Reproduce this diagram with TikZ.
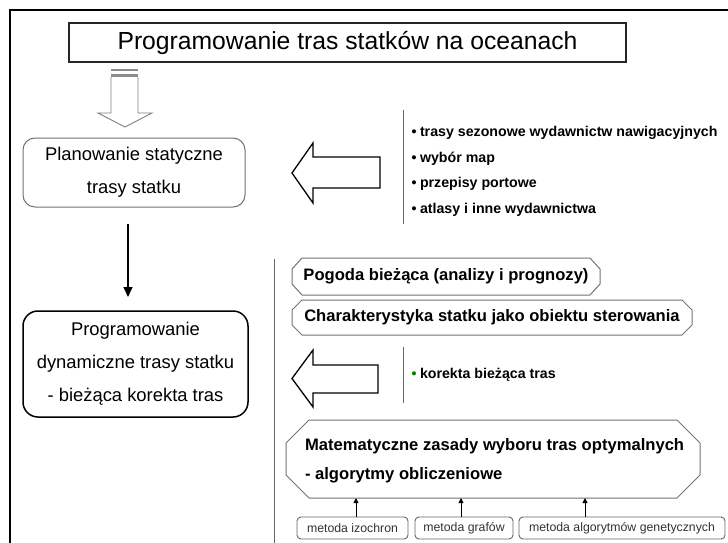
\documentclass[tikz,border=0pt]{standalone}
\usepackage{fontspec}
\setmainfont{Liberation Sans}
\usetikzlibrary{arrows.meta}
\newcommand\fsz[2]{\fontsize{#1}{#2}\selectfont}
\newcommand\chamf[3]{%
  \draw[octo] ([xshift=#2]#1.north west) -- ([xshift=-#2]#1.north east)
    -- ([yshift=-#3]#1.north east) -- ([yshift=#3]#1.south east)
    -- ([xshift=-#2]#1.south east) -- ([xshift=#2]#1.south west)
    -- ([yshift=#3]#1.south west) -- ([yshift=-#3]#1.north west) -- cycle;}
\begin{document}
\begin{tikzpicture}[x=1pt,y=-1pt,
  every node/.style={inner sep=0pt,outer sep=0pt},
  titlebox/.style={draw=black!85,line width=1.2pt,minimum width=557pt,minimum height=39pt,font=\fsz{24.7}{28}},
  planbox/.style={draw=black!55,line width=1pt,rounded corners=12pt,align=center,font=\fsz{18.4}{33}},
  progbox/.style={draw=black,line width=1.5pt,rounded corners=15pt,align=center,font=\fsz{18.4}{33}},
  octo/.style={draw=black!55,line width=1pt},
  boldbox/.style={font=\bfseries\fsz{16.6}{29}},
  listtext/.style={anchor=base west,font=\bfseries\fsz{14.2}{17}},
  bul/.style={anchor=base,font=\bfseries\fsz{14.2}{17}},
  methbox/.style={draw=black!60,line width=0.9pt,rounded corners=4pt,minimum height=22pt,font=\fsz{12.3}{14},text=black!80},
  hollow/.style={draw=black,line width=1.3pt,fill=white,line join=miter},
  hollowgray/.style={draw=black!50,line width=0.9pt},
  sep/.style={draw=black!60,line width=1pt},
  mainarr/.style={draw=black,line width=1.3pt,-{Triangle[length=10pt,width=9pt]}},
  smallarr/.style={draw=black,line width=0.9pt,-{Triangle[length=5pt,width=5pt]}}
]
\useasboundingbox (0,0) rectangle (728,543);
\clip (0,0) rectangle (728,543);
\fill[white] (0,0) rectangle (728,543);
% outer frame
\draw[line width=2.8pt] (10,545) -- (10,10) -- (730,10);

% title
\node[titlebox] (title) at (347.5,42.5) {Programowanie tras statków na oceanach};

% down hollow arrow
\fill[black!45] (111,69) rectangle (138,71.5);
\fill[black!45] (111,74) rectangle (138,76.5);
\draw[hollowgray] (111,77) -- (111,113) -- (98,113) -- (125,127) -- (152,113) -- (138,113) -- (138,77);

% left boxes
\node[planbox,minimum width=222pt,minimum height=69pt] (plan) at (134,172.5) {Planowanie statyczne\\trasy statku};
\node[progbox,minimum width=225pt,minimum height=106pt] (prog) at (135.5,364) {Programowanie\\dynamiczne trasy statku\\- bieżąca korekta tras};

\coordinate (ar1s) at (128,224);
\coordinate (ar1e) at (128,297);
\draw[mainarr] (ar1s) -- (ar1e);

% hollow left arrows
\draw[hollow] (380,157) -- (313,157) -- (313,143) -- (292,173) -- (313,203) -- (313,188) -- (380,188) -- cycle;
\draw[hollow] (378,365) -- (313,365) -- (313,350) -- (292,378.5) -- (313,407) -- (313,393) -- (378,393) -- cycle;

% separators
\draw[sep] (403,110) -- (403,224);
\draw[sep] (274,259) -- (274,545);
\draw[sep] (403,347) -- (403,403);

% bullet list
\node[bul] (bu1) at (414,136.7) {•};
\node[listtext] (l1) at (420,136.7) {trasy sezonowe wydawnictw nawigacyjnych};
\node[bul] (bu2) at (414,162.7) {•};
\node[listtext] (l2) at (420,162.7) {wybór map};
\node[bul] (bu3) at (414,187.7) {•};
\node[listtext] (l3) at (420,187.7) {przepisy portowe};
\node[bul] (bu4) at (414,213.7) {•};
\node[listtext] (l4) at (420,213.7) {atlasy i inne wydawnictwa};

\node[bul,text=green!50!black] (bu5) at (414,378.7) {•};
\node[listtext] (l5) at (420,378.7) {korekta bieżąca tras};

% chamfered boxes
\node[boldbox,minimum width=308pt,minimum height=37pt] (pog) at (446,276.5) {Pogoda bieżąca (analizy i prognozy)};
\chamf{pog}{10pt}{11pt}
\node[boldbox,minimum width=400pt,minimum height=35pt] (char) at (492,317.5) {Charakterystyka statku jako obiektu sterowania};
\chamf{char}{10pt}{10pt}
\node[minimum width=414pt,minimum height=78pt] (mat) at (493,459) {};
\chamf{mat}{23pt}{23pt}
\node[boldbox,align=left,anchor=west] (mattext) at (305,460.5) {Matematyczne zasady wyboru tras optymalnych\\- algorytmy obliczeniowe};

% method boxes
\node[methbox,minimum width=111pt] (b1) at (352.5,528) {metoda izochron};
\node[methbox,minimum width=98pt] (b2) at (464,528) {metoda grafów};
\node[methbox,minimum width=206pt] (b3) at (622,528) {metoda algorytmów genetycznych};

\coordinate (b1t) at ([xshift=3.5pt]b1.north);
\coordinate (b2t) at ([xshift=-3pt]b2.north);
\coordinate (b3t) at ([xshift=-37pt]b3.north);
\draw[smallarr] (b1t) -- (b1t |- mat.south);
\draw[smallarr] (b2t) -- (b2t |- mat.south);
\draw[smallarr] (b3t) -- (b3t |- mat.south);
\end{tikzpicture}
\end{document}
